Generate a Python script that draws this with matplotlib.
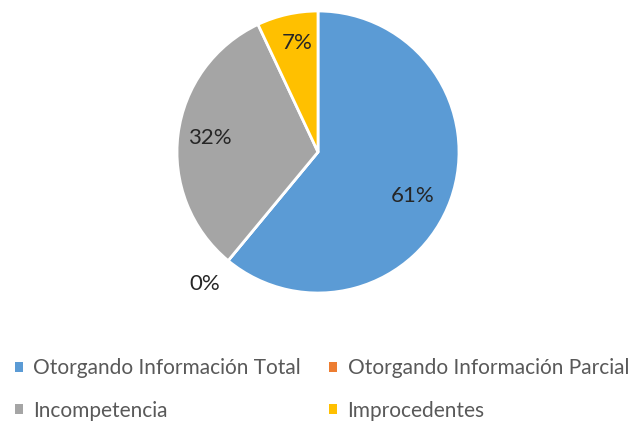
import numpy as np
import matplotlib.pyplot as plt
from matplotlib.patches import Patch

plt.rcParams['font.family'] = ['Lato', 'DejaVu Sans']

categories = ["Otorgando Información Total", "Otorgando Información Parcial",
              "Incompetencia", "Improcedentes"]
values = [61, 0, 32, 7]
labels = ["61%", "0%", "32%", "7%"]
colors = ["#5B9BD5", "#ED7D31", "#A5A5A5", "#FFC000"]

# label placement: (angle nudge in degrees, distance from centre in radii)
label_pos = [(-5, 0.74), (-1, 1.23), (0, 0.77), (-2, 0.79)]

fig = plt.figure(figsize=(6.37, 4.23), dpi=100)
ax = fig.add_axes([177 / 637, 130 / 423, 282 / 637, 282 / 423])

wedges, _ = ax.pie(values, colors=colors, startangle=90, counterclock=False,
                   wedgeprops=dict(edgecolor="white", linewidth=2))
ax.set_xlim(-1, 1)
ax.set_ylim(-1, 1)
ax.set_aspect("equal")

# data labels around the middle angle of each wedge
for w, lab, (nudge, dist) in zip(wedges, labels, label_pos):
    ang = np.deg2rad((w.theta1 + w.theta2) / 2 + nudge)
    ax.text(dist * np.cos(ang), dist * np.sin(ang), lab, ha="center", va="center",
            fontsize=16, color="#262626", clip_on=False)

# legend filled row by row like the original (matplotlib fills by column)
handles = [Patch(facecolor=c, edgecolor="none") for c in colors]
order = [0, 2, 1, 3]
fig.legend([handles[i] for i in order], [categories[i] for i in order],
           ncol=2, loc="center left", bbox_to_anchor=(15 / 637, 33.5 / 423),
           frameon=False, fontsize=15, labelcolor="#595959", borderpad=0,
           borderaxespad=0, handlelength=0.38, handleheight=0.38,
           handletextpad=0.5, columnspacing=1.35, labelspacing=1.07)

fig.savefig("out.png", dpi=100)
